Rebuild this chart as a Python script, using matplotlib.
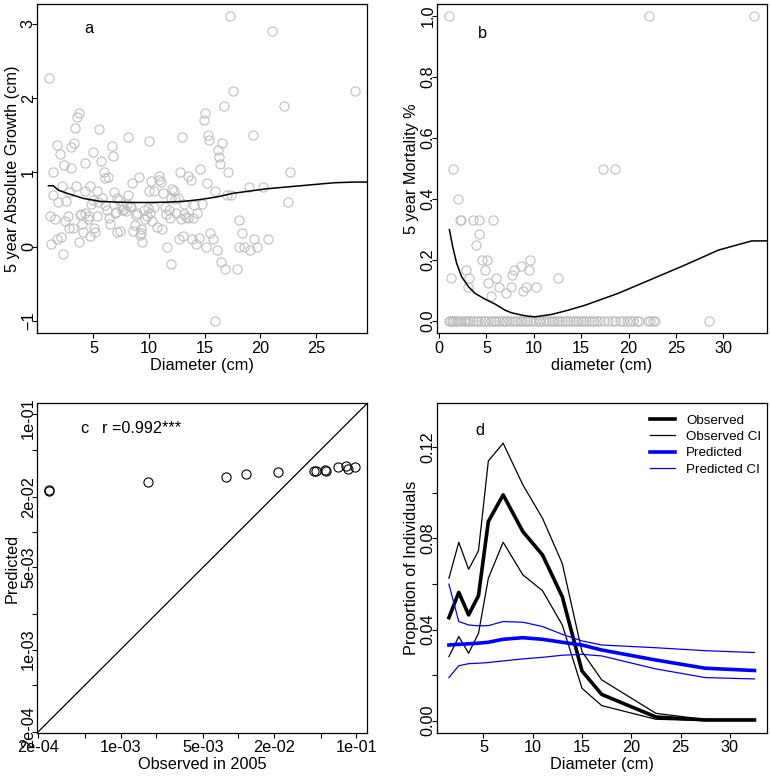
import matplotlib
matplotlib.use("Agg")
import matplotlib.pyplot as plt
import matplotlib.transforms as mtransforms
import numpy as np

plt.rcParams['font.family'] = ['Liberation Sans', 'DejaVu Sans']

# ---------------- Panel a data ----------------
growth_diam = [1.05, 17.28, 21.0, 17.5, 28.5, 22.1, 16.7, 15.0, 14.9, 3.68, 3.56, 5.54, 3.35, 19.3,
               15.27, 15.4, 8.14, 12.96, 9.97, 3.26, 3.02, 1.77, 6.65, 16.56, 16.17, 4.94, 2.04, 6.77,
               16.26, 5.69, 16.35, 4.25, 2.37, 2.96, 14.58, 1.35, 5.96, 12.78, 17.1, 22.7, 3.44, 6.29,
               6.08, 9.10, 10.9, 13.47, 13.74, 10.93, 10.18, 11.1, 15.2, 8.47, 4.67, 2.22, 4.28, 5.3,
               6.88, 10.03, 10.45, 12.1, 12.25, 2.78, 1.41, 11.24, 15.96, 19.0, 20.2, 17.0, 17.4, 7.1,
               5.78, 8.14, 12.57, 12.37, 7.3, 1.83, 2.57, 5.39, 6.08, 4.79, 7.99, 7.57, 8.41, 14.76,
               13.17, 14.07, 11.44, 11.8, 10.45, 22.5, 7.0, 7.6, 7.75, 9.5, 10.06, 9.79, 8.95, 12.4,
               13.17, 14.28, 1.14, 2.69, 3.8, 4.25, 4.58, 5.36, 6.4, 1.56, 2.43, 4.49, 9.64, 10.3,
               11.86, 12.87, 13.3, 13.53, 13.98, 18.05, 6.47, 3.98, 8.77, 2.84, 3.14, 9.25, 11.17,
               10.69, 5.06, 4.04, 5.18, 7.13, 7.4, 8.59, 9.25, 15.5, 18.38, 4.73, 9.19, 13.07, 2.07,
               1.7, 12.66, 13.86, 14.49, 15.75, 19.46, 20.69, 1.23, 3.74, 9.37, 14.19, 11.59, 15.09,
               18.1, 18.5, 19.7, 16.08, 19.1, 2.25, 16.47, 16.85, 17.9, 11.98, 15.9,
               8.8, 9.9, 6.2, 7.9, 8.3, 5.0, 11.5, 12.0, 3.9, 6.9]
growth_val = [2.27, 3.10, 2.90, 2.10, 2.10, 1.89, 1.89, 1.80, 1.70, 1.80, 1.75, 1.58, 1.60, 1.50,
              1.50, 1.43, 1.47, 1.47, 1.42, 1.40, 1.34, 1.37, 1.36, 1.40, 1.30, 1.28, 1.25, 1.22,
              1.21, 1.15, 1.11, 1.12, 1.10, 1.06, 1.04, 1.00, 1.00, 1.00, 1.00, 1.00, 0.82, 0.94,
              0.92, 0.94, 0.95, 0.95, 0.90, 0.90, 0.88, 0.87, 0.86, 0.86, 0.81, 0.81, 0.75, 0.75,
              0.74, 0.75, 0.75, 0.78, 0.75, 0.74, 0.69, 0.72, 0.75, 0.80, 0.80, 0.70, 0.70, 0.65,
              0.65, 0.69, 0.66, 0.64, 0.63, 0.60, 0.61, 0.60, 0.56, 0.57, 0.57, 0.55, 0.53, 0.57,
              0.58, 0.56, 0.54, 0.49, 0.54, 0.60, 0.47, 0.49, 0.51, 0.50, 0.45, 0.42, 0.45, 0.46,
              0.44, 0.45, 0.42, 0.42, 0.43, 0.45, 0.42, 0.42, 0.38, 0.37, 0.35, 0.37, 0.37, 0.35,
              0.39, 0.37, 0.40, 0.39, 0.38, 0.36, 0.30, 0.30, 0.29, 0.25, 0.25, 0.24, 0.24,
              0.27, 0.25, 0.20, 0.20, 0.20, 0.21, 0.21, 0.19, 0.19, 0.19, 0.15, 0.16, 0.14, 0.13,
              0.11, 0.10, 0.10, 0.12, 0.10, 0.10, 0.10, 0.04, 0.06, 0.06, 0.04, 0.00, 0.00,
              0.00, 0.00, 0.00, -0.05, -0.05, -0.10, -0.20, -0.30, -0.30, -0.23, -1.00,
              0.43, 0.52, 0.50, 0.48, 0.55, 0.63, 0.44, 0.65, 0.44, 0.45]
growth_fit_x = [0.96, 1.4, 1.86, 2.6, 4.1, 5.6, 7.1, 8.6, 10.1, 11.6, 13.1, 14.6, 16.1, 17.6,
                20.6, 23.6, 26.6, 28.5, 29.6]
growth_fit_y = [0.82, 0.82, 0.76, 0.72, 0.65, 0.61, 0.60, 0.595, 0.595, 0.60, 0.61, 0.635, 0.67,
                0.72, 0.78, 0.82, 0.86, 0.87, 0.87]

# ---------------- Panel b data ----------------
mort_diam_nonzero = [1.09, 22.2, 33.27, 1.44, 17.3, 18.54, 2.04, 2.18, 2.36, 3.62, 4.26, 5.73, 4.19,
                     3.87, 4.5, 5.1, 9.64, 1.27, 3.2, 6.05, 12.5, 2.85, 4.8, 9.46, 7.9, 7.67, 8.65,
                     3.03, 5.14, 6.37, 7.56, 9.22, 10.24, 5.52, 7.03, 8.83]
mort_val_nonzero = [1.0, 1.0, 1.0, 0.5, 0.5, 0.5, 0.4, 0.333, 0.333, 0.333, 0.333, 0.333, 0.286,
                    0.25, 0.2, 0.2, 0.2, 0.143, 0.143, 0.143, 0.143, 0.167, 0.167, 0.167, 0.167,
                    0.15, 0.18, 0.111, 0.125, 0.111, 0.111, 0.111, 0.111, 0.083, 0.091, 0.10]
mort_diam_zero = [1.0, 1.2, 1.4, 1.5, 1.7, 1.9, 2.1, 2.3, 2.6, 2.8, 3.1, 3.3, 3.6, 3.9, 4.1, 4.4,
                  4.7, 4.9, 5.2, 5.5, 5.8, 6.0, 6.3, 6.6, 6.9, 7.1, 7.4, 7.7, 8.0, 8.2, 8.5, 8.8,
                  9.1, 9.3, 9.6, 9.9, 10.2, 10.5, 10.7, 11.0, 11.3, 11.6, 11.9, 12.1, 12.4, 12.7,
                  13.0, 13.3, 13.5, 13.8, 14.1, 14.4, 14.7, 15.0, 15.2, 15.5, 15.8, 16.1, 16.4,
                  16.7, 17.0, 17.4, 17.8, 18.3, 18.6, 19.1, 19.4, 19.8, 20.2, 20.5, 20.9, 21.1,
                  22.1, 22.3, 22.6, 22.8, 28.5]
mort_fit_x = [1.09, 1.44, 1.86, 2.39, 3.1, 3.8, 4.85, 5.9, 6.96, 7.67, 9.07, 10.1, 11.9, 13.65,
              15.4, 18.9, 22.4, 25.96, 29.5, 33.0, 34.6]
mort_fit_y = [0.30, 0.244, 0.189, 0.145, 0.113, 0.091, 0.072, 0.056, 0.036, 0.027, 0.0175, 0.014,
              0.022, 0.036, 0.052, 0.091, 0.137, 0.184, 0.233, 0.263, 0.263]

# ---------------- Panel c data ----------------
obs_2005 = [2.46e-4, 2.46e-4, 1.72e-3, 7.91e-3, 1.155e-2, 2.19e-2, 4.42e-2, 4.6e-2, 5.42e-2, 5.6e-2,
            7.08e-2, 8.17e-2, 8.55e-2, 9.81e-2]
pred_2005 = [0.0228, 0.0222, 0.0265, 0.0295, 0.0311, 0.0327, 0.0332, 0.0332, 0.0336, 0.0333,
             0.0354, 0.0361, 0.0345, 0.0356]
c_xticks = [2e-4, 5e-4, 1e-3, 2e-3, 5e-3, 1e-2, 2e-2, 5e-2, 1e-1]
c_ticklabels = ['2e-04', '', '1e-03', '', '5e-03', '', '2e-02', '', '1e-01']

# ---------------- Panel d data ----------------
size_class = [1.5, 2.5, 3.5, 4.5, 5.5, 7, 9, 11, 13, 15, 17, 22.5, 27.5, 32.5]
observed = [0.0452, 0.0563, 0.0464, 0.0549, 0.0874, 0.0991, 0.0830, 0.0727, 0.0544, 0.0218,
            0.0115, 0.0016, 0.0003, 0.0003]
observed_hi = [0.0625, 0.0783, 0.0664, 0.0746, 0.1140, 0.1218, 0.1035, 0.0888, 0.0690, 0.0303,
               0.0179, 0.0032, 0.0005, 0.0005]
observed_lo = [0.0281, 0.0369, 0.0296, 0.0383, 0.0625, 0.0783, 0.0640, 0.0570, 0.0420, 0.0142,
               0.0066, 0.0006, 0.0, 0.0]
predicted = [0.0332, 0.0335, 0.0337, 0.0340, 0.0344, 0.0357, 0.0364, 0.0357, 0.0344, 0.0332,
             0.0310, 0.0266, 0.0230, 0.0220]
predicted_hi = [0.0599, 0.0435, 0.0420, 0.0416, 0.0417, 0.0435, 0.0432, 0.0413, 0.0379, 0.0350,
                0.0332, 0.0320, 0.0307, 0.0299]
predicted_lo = [0.0189, 0.0241, 0.0250, 0.0252, 0.0255, 0.0262, 0.0271, 0.0278, 0.0287, 0.0291,
                0.0284, 0.0227, 0.0189, 0.0183]
legend_labels = ['Observed', 'Observed CI', 'Predicted', 'Predicted CI']

# ---------------- Figure ----------------
W, H = 771, 778
fig = plt.figure(figsize=(W / 100, H / 100), dpi=100)

def px_axes(l, t, r, b):
    return fig.add_axes([l / W, 1 - b / H, (r - l) / W, (b - t) / H])

axa = px_axes(37.3, 4, 367.3, 333.3)
axb = px_axes(436.7, 4, 766.7, 333.3)
axc = px_axes(37.3, 403.3, 367.3, 732.7)
axd = px_axes(436.7, 403.3, 766.7, 732.7)

TFS = 11.7
GREY = '#BEBEBE'

def style(ax):
    for s in ax.spines.values():
        s.set_linewidth(0.9)
    ax.tick_params(direction='out', length=3.5, width=0.8, labelsize=TFS, pad=2)
    ax.tick_params(axis='y', pad=-2.5)
    for lab in ax.get_yticklabels():
        lab.set_rotation(90)
        lab.set_va('center')

# Panel a
axa.plot(growth_diam, growth_val, linestyle='none', marker='o', markersize=6.6,
         markerfacecolor='none', markeredgecolor=GREY, markeredgewidth=0.8)
axa.plot(growth_fit_x, growth_fit_y, color='black', lw=1.1)
axa.set_xlim(-0.04, 29.6)
axa.set_ylim(-1.164, 3.264)
axa.set_xticks([5, 10, 15, 20, 25])
axa.set_yticks([-1, 0, 1, 2, 3])
axa.set_xlabel('Diameter (cm)', fontsize=TFS, labelpad=1.5)
axa.set_ylabel('5 year Absolute Growth (cm)', fontsize=TFS, labelpad=1)
axa.text(0.156, 0.926, 'a', transform=axa.transAxes, fontsize=TFS, ha='center', va='center')
style(axa)

# Panel b
axb.plot(mort_diam_zero, [0.0] * len(mort_diam_zero), linestyle='none', marker='o', markersize=6.6,
         markerfacecolor='none', markeredgecolor=GREY, markeredgewidth=0.8)
axb.plot(mort_diam_nonzero, mort_val_nonzero, linestyle='none', marker='o', markersize=6.6,
         markerfacecolor='none', markeredgecolor=GREY, markeredgewidth=0.8)
axb.plot(mort_fit_x, mort_fit_y, color='black', lw=1.1)
axb.set_xlim(-0.25, 34.58)
axb.set_ylim(-0.04, 1.04)
axb.set_xticks([0, 5, 10, 15, 20, 25, 30])
axb.set_yticks([0.0, 0.2, 0.4, 0.6, 0.8, 1.0])
axb.set_yticklabels(['0.0', '0.2', '0.4', '0.6', '0.8', '1.0'])
axb.set_xlabel('diameter (cm)', fontsize=TFS, labelpad=1.5)
axb.set_ylabel('5 year Mortality %', fontsize=TFS, labelpad=1)
axb.text(0.139, 0.911, 'b', transform=axb.transAxes, fontsize=TFS, ha='center', va='center')
style(axb)

# Panel c
lo_c, hi_c = 1.96e-4, 0.1245
axc.set_xscale('log')
axc.set_yscale('log')
axc.plot([lo_c, hi_c], [lo_c, hi_c], color='black', lw=0.9)
axc.plot(obs_2005, pred_2005, linestyle='none', marker='o', markersize=6.6,
         markerfacecolor='none', markeredgecolor='black', markeredgewidth=0.8)
axc.set_xlim(lo_c, hi_c)
axc.set_ylim(lo_c, hi_c)
axc.minorticks_off()
axc.set_xticks(c_xticks)
axc.set_xticklabels(c_ticklabels)
axc.set_yticks(c_xticks)
axc.set_yticklabels(c_ticklabels)
axc.minorticks_off()
axc.set_xlabel('Observed in 2005', fontsize=TFS, labelpad=1.5)
axc.set_ylabel('Predicted', fontsize=TFS, labelpad=1)
axc.text(0.1415, 0.924, 'c', transform=axc.transAxes, fontsize=TFS, ha='center', va='center')
axc.text(0.195, 0.924, 'r =0.992***', transform=axc.transAxes, fontsize=TFS, ha='left', va='center')
style(axc)
ylabs_c = axc.get_yticklabels()
ylabs_c[0].set_transform(ylabs_c[0].get_transform() +
                         mtransforms.ScaledTranslation(0, 5 / 100, fig.dpi_scale_trans))
ylabs_c[-1].set_transform(ylabs_c[-1].get_transform() +
                          mtransforms.ScaledTranslation(0, -4 / 100, fig.dpi_scale_trans))

# Panel d
axd.plot(size_class, observed, color='black', lw=2.6, label=legend_labels[0])
axd.plot(size_class, observed_hi, color='black', lw=0.9, label=legend_labels[1])
axd.plot(size_class, observed_lo, color='black', lw=0.9)
axd.plot(size_class, predicted, color='#0000FF', lw=2.6, label=legend_labels[2])
axd.plot(size_class, predicted_hi, color='#0000FF', lw=0.9, label=legend_labels[3])
axd.plot(size_class, predicted_lo, color='#0000FF', lw=0.9)
axd.set_xlim(0.26, 33.74)
axd.set_ylim(-0.0053, 0.1393)
axd.set_xticks([5, 10, 15, 20, 25, 30])
axd.set_yticks([0.0, 0.02, 0.04, 0.06, 0.08, 0.10, 0.12])
axd.set_yticklabels(['0.00', '', '0.04', '', '0.08', '', '0.12'])
axd.set_xlabel('Diameter (cm)', fontsize=TFS, labelpad=1.5)
axd.set_ylabel('Proportion of Individuals', fontsize=TFS, labelpad=1)
axd.text(0.131, 0.918, 'd', transform=axd.transAxes, fontsize=TFS, ha='center', va='center')
axd.legend(loc='upper left', bbox_to_anchor=(0.646, 0.966), frameon=False, fontsize=9.6,
           handlelength=1.85, handletextpad=0.85, borderaxespad=0, borderpad=0, labelspacing=0.3)
style(axd)

fig.savefig('out.png', dpi=100)
